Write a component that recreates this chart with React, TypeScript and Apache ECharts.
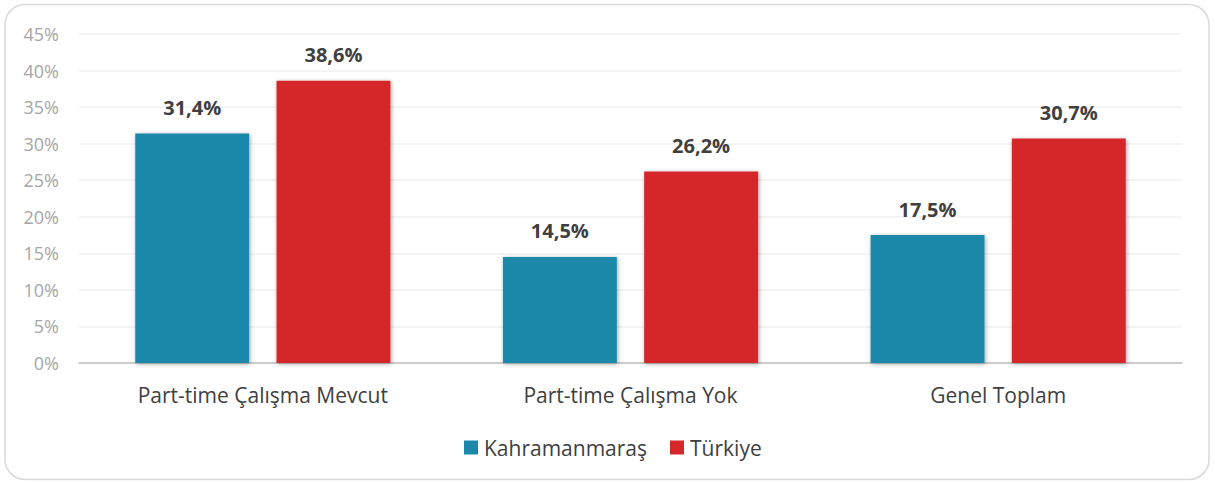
import React, { useEffect, useRef } from "react";
import * as echarts from "echarts";

const categories = ["Part-time Çalışma Mevcut", "Part-time Çalışma Yok", "Genel Toplam"];
const kahramanmaras = [31.4, 14.5, 17.5];
const turkiye = [38.6, 26.2, 30.7];
const seriesNames = ["Kahramanmaraş", "Türkiye"];
const colors = ["#1B88AA", "#D5282A"];

const FONT = "'Open Sans', 'Noto Sans', sans-serif";

export default function App() {
  const ref = useRef<HTMLDivElement>(null);
  useEffect(() => {
    if (!ref.current) return;
    const chart = echarts.init(ref.current, null, { renderer: "svg" });
    const label = {
      show: true,
      position: "top",
      distance: 16,
      fontFamily: FONT,
      fontSize: 20,
      fontWeight: "bold",
      color: "#404040",
      formatter: (p: any) => p.value.toFixed(1).replace(".", ",") + "%",
    };
    const itemStyleFor = (c: string) => ({
      color: c,
      shadowColor: "rgba(0,0,0,0.35)",
      shadowBlur: 4,
      shadowOffsetX: 1,
      shadowOffsetY: 1,
    });
    chart.setOption({
      animation: false,
      backgroundColor: "#ffffff",
      graphic: [
        {
          type: "rect",
          shape: { x: 5, y: 4.5, width: 1204, height: 475, r: 20 },
          style: { fill: "none", stroke: "#d9d9d9", lineWidth: 1.5 },
          silent: true,
          z: -10,
        },
      ],
      grid: { left: 79, right: 33, top: 34, bottom: 119, containLabel: false },
      legend: {
        bottom: 19,
        left: 459,
        itemWidth: 14,
        itemHeight: 14,
        itemGap: 23,
        icon: "rect",
        textStyle: { fontFamily: FONT, fontSize: 21, color: "#404040", padding: [0, 0, 0, 1] },
        itemStyle: { shadowBlur: 0, shadowOffsetX: 0, shadowOffsetY: 0 },
        data: seriesNames,
      },
      xAxis: {
        type: "category",
        data: categories,
        axisLine: { show: true, lineStyle: { color: "#bfbfbf", width: 1.5 } },
        axisTick: { show: false },
        axisLabel: { fontFamily: FONT, fontSize: 21, color: "#404040", margin: 21 },
      },
      yAxis: {
        type: "value",
        min: 0,
        max: 45,
        interval: 5,
        axisLine: { show: false },
        axisTick: { show: false },
        splitLine: { lineStyle: { color: "#f0f0f0", width: 1.5 } },
        axisLabel: {
          fontFamily: FONT,
          fontSize: 18,
          color: "#a6a6a6",
          margin: 20,
          formatter: "{value}%",
        },
      },
      series: [
        {
          name: seriesNames[0],
          type: "bar",
          data: kahramanmaras,
          barGap: "24%",
          barCategoryGap: "30.6%",
          itemStyle: itemStyleFor(colors[0]),
          label,
        },
        {
          name: seriesNames[1],
          type: "bar",
          data: turkiye,
          barGap: "24%",
          barCategoryGap: "30.6%",
          itemStyle: itemStyleFor(colors[1]),
          label,
        },
      ],
    });
    return () => chart.dispose();
  }, []);
  return (
    <div
      ref={ref}
      style={{ position: "fixed", left: 0, top: 0, width: 1215, height: 482 }}
    />
  );
}
